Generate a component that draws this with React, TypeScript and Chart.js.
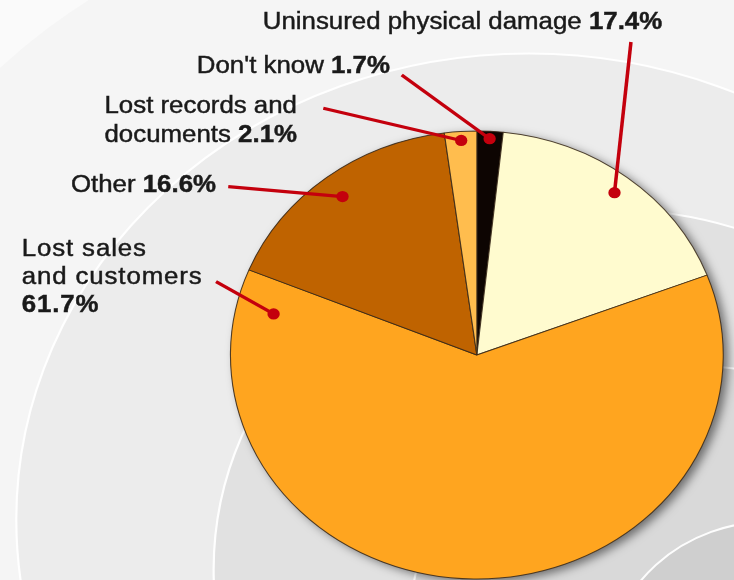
import React, { useEffect, useRef } from "react";
import { Chart, registerables } from "chart.js";

Chart.register(...registerables);

// ---------- data ----------
const categories = [
  "Don't know",
  "Uninsured physical damage",
  "Lost sales and customers",
  "Other",
  "Lost records and documents",
];
const values = [1.7, 17.4, 61.7, 16.6, 2.1];
const sliceColors = ["#0d0502", "#fffbcf", "#ffa51f", "#bf6300", "#ffbd4e"];

// label text lines (the bold percentage is appended from `values`)
const labelLines: string[][] = [
  ["Don't know "],
  ["Uninsured physical damage "],
  ["Lost sales", "and customers", ""],
  ["Other "],
  ["Lost records and", "documents "],
];

// ---------- styling / layout (unstretched coordinates) ----------
const STRETCH = 1.1; // the original graphic is stretched horizontally
const FONT_SIZE = 23.5;
const FONT_FAMILY = '"Liberation Sans", Arial, Helvetica, sans-serif';
const TEXT_COLOR = "#1a1a1a";
const LEADER_COLOR = "#c4000d";

type LabelLayout = {
  align: "left" | "right";
  x: number;
  y: number;
  lh: number;
  from: [number, number];
  along: number;
  depth: number;
  spacing?: number;
};
const labelLayouts: LabelLayout[] = [
  { align: "right", x: 354.5, y: 73, lh: 29, from: [365.2, 75], along: 0.5, depth: 0.967 },
  { align: "right", x: 602, y: 29, lh: 29, from: [573.6, 42], along: 0.5, depth: 0.915 },
  { align: "left", x: 19.7, y: 256, lh: 27.8, from: [196.4, 281.7], along: 0.956, depth: 0.845, spacing: 0.8 },
  { align: "right", x: 196.4, y: 191.7, lh: 29, from: [207.5, 186.7], along: 0.5, depth: 0.893 },
  { align: "right", x: 270, y: 113, lh: 29, from: [293.9, 108.3], along: 0.5, depth: 0.96 },
];

// decorative background rings (unstretched coordinates)
const ringColors = ["#f5f5f5", "#ececec", "#e1e1e1", "#d9d9d9", "#cfcfcf"];
const ringOuterColor = "#fafafa";

const backgroundPlugin = {
  id: "stretchAndBackground",
  beforeDraw(chart: any) {
    const ctx = chart.ctx as CanvasRenderingContext2D;
    ctx.save();
    ctx.scale(STRETCH, 1);
    const w = chart.width;
    const h = chart.height;
    ctx.fillStyle = ringOuterColor;
    ctx.fillRect(0, 0, w, h);
    ringColors.forEach((c, k) => {
      const cx = 407.4 + 73.4 * k;
      const cy = 469.5 + 50 * k;
      const r = 572 - 106 * k;
      ctx.beginPath();
      ctx.arc(cx, cy, r, 0, Math.PI * 2);
      ctx.fillStyle = c;
      ctx.fill();
      if (k > 0) {
        ctx.lineWidth = 2;
        ctx.strokeStyle = "rgba(255,255,255,0.95)";
        ctx.stroke();
      }
    });
  },
  beforeDatasetsDraw(chart: any) {
    const ctx = chart.ctx as CanvasRenderingContext2D;
    const arc = chart.getDatasetMeta(0).data[0];
    if (!arc) return;
    ctx.save();
    ctx.beginPath();
    ctx.arc(arc.x, arc.y, arc.outerRadius, 0, Math.PI * 2);
    ctx.fillStyle = "#8a8a8a";
    ctx.shadowColor = "rgba(0,0,0,0.5)";
    ctx.shadowBlur = 10;
    ctx.shadowOffsetX = 5;
    ctx.shadowOffsetY = 3;
    ctx.fill();
    ctx.restore();
  },
  afterDraw(chart: any) {
    const ctx = chart.ctx as CanvasRenderingContext2D;
    const meta = chart.getDatasetMeta(0);
    meta.data.forEach((arc: any, i: number) => {
      const L = labelLayouts[i];
      // leader line + dot
      const a = arc.startAngle + (arc.endAngle - arc.startAngle) * L.along;
      const r = arc.outerRadius * L.depth;
      const dx = arc.x + Math.cos(a) * r;
      const dy = arc.y + Math.sin(a) * r;
      ctx.save();
      ctx.strokeStyle = LEADER_COLOR;
      ctx.fillStyle = LEADER_COLOR;
      ctx.lineWidth = 3.2;
      ctx.beginPath();
      ctx.moveTo(L.from[0], L.from[1]);
      ctx.lineTo(dx, dy);
      ctx.stroke();
      ctx.beginPath();
      ctx.arc(dx, dy, 5.6, 0, Math.PI * 2);
      ctx.fill();
      ctx.restore();

      // text
      const pct = values[i].toFixed(1) + "%";
      const lines = labelLines[i];
      ctx.save();
      ctx.fillStyle = TEXT_COLOR;
      ctx.strokeStyle = TEXT_COLOR;
      ctx.lineWidth = 0.45;
      ctx.textBaseline = "alphabetic";
      ctx.textAlign = "left";
      (ctx as any).letterSpacing = (L.spacing || 0) + "px";
      lines.forEach((txt, li) => {
        const isLast = li === lines.length - 1;
        const segs: { t: string; b: boolean }[] = [];
        if (txt) segs.push({ t: txt, b: false });
        if (isLast) segs.push({ t: pct, b: true });
        let total = 0;
        const widths = segs.map((s) => {
          ctx.font = `${s.b ? "bold " : ""}${FONT_SIZE}px ${FONT_FAMILY}`;
          const wv = ctx.measureText(s.t).width;
          total += wv;
          return wv;
        });
        let x = L.align === "right" ? L.x - total : L.x;
        const y = L.y + li * L.lh;
        segs.forEach((s, si) => {
          ctx.font = `${s.b ? "bold " : ""}${FONT_SIZE}px ${FONT_FAMILY}`;
          ctx.fillText(s.t, x, y);
          ctx.strokeText(s.t, x, y);
          x += widths[si];
        });
      });
      ctx.restore();
    });
    ctx.restore(); // matches the save in beforeDraw
  },
};

export default function App() {
  const canvasRef = useRef<HTMLCanvasElement | null>(null);

  useEffect(() => {
    if (!canvasRef.current) return;
    const chart = new Chart(canvasRef.current, {
      type: "pie",
      data: {
        labels: categories,
        datasets: [
          {
            data: values,
            backgroundColor: sliceColors,
            borderColor: "rgba(55,40,25,0.85)",
            borderWidth: 1,
            hoverOffset: 0,
            clip: false as any,
          },
        ],
      },
      options: {
        responsive: false,
        maintainAspectRatio: false,
        animation: false,
        rotation: 0,
        events: [],
        layout: { padding: { left: 209, right: 76, top: 130, bottom: 0 } },
        plugins: {
          legend: { display: false },
          tooltip: { enabled: false },
          title: { display: false },
        },
      },
      plugins: [backgroundPlugin],
    });
    return () => chart.destroy();
  }, []);

  return (
    <div
      style={{
        position: "fixed",
        left: 0,
        top: 0,
        width: 734,
        height: 580,
        overflow: "hidden",
        background: "#fafafa",
      }}
    >
      <canvas
        ref={canvasRef}
        width={734}
        height={580}
        style={{ display: "block", width: 734, height: 580 }}
      />
    </div>
  );
}
